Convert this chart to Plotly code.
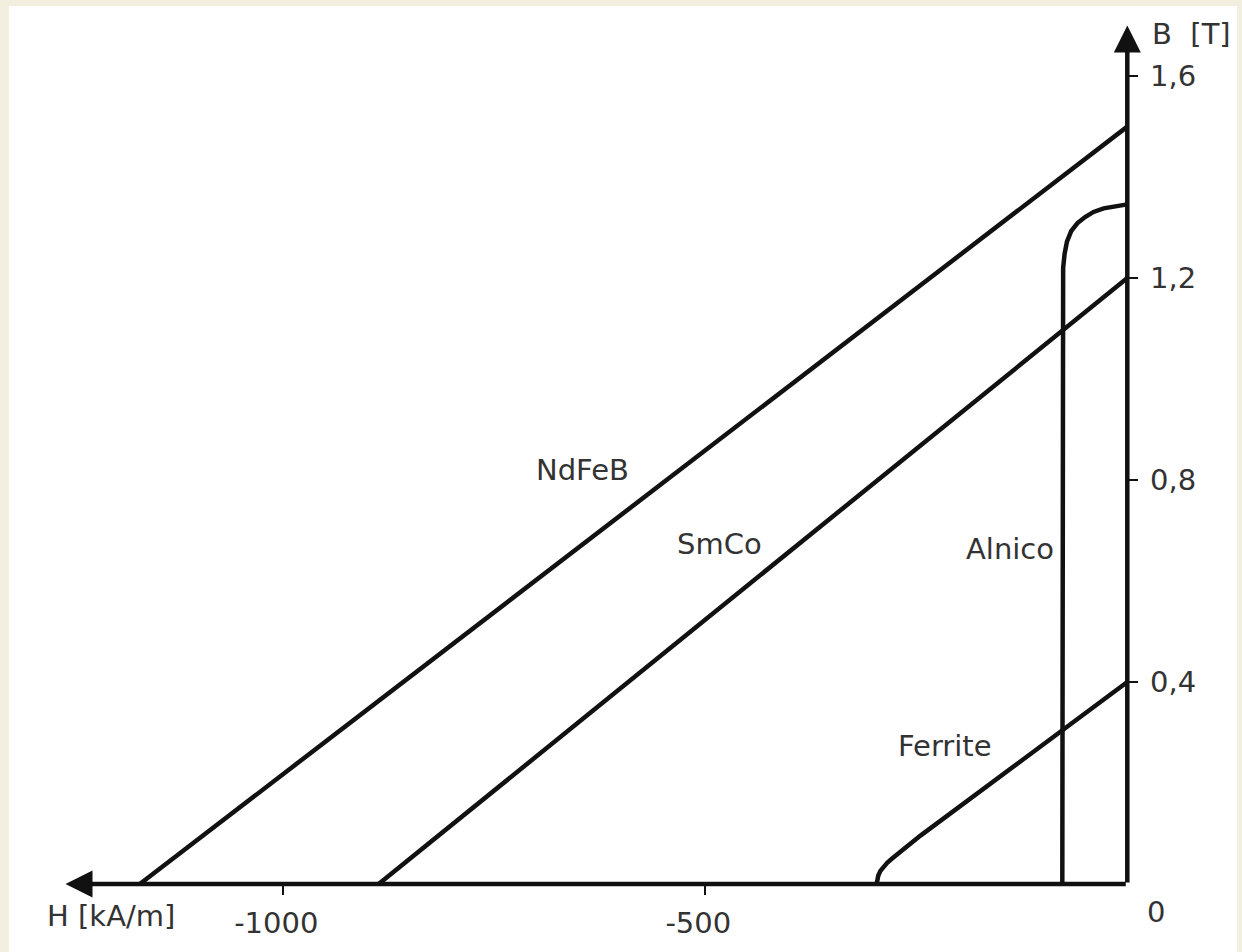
import plotly.graph_objects as go

# Demagnetisation curves (second quadrant) of permanent-magnet materials
# H in kA/m, B in T
ndfeb_h = [-1170, 0]
ndfeb_b = [0.0, 1.5]

smco_h = [-887, 0]
smco_b = [0.0, 1.2]

alnico_h = [-77, -77, -76.8, -76, -74.3, -71.5, -66.5, -59, -50, -40, -28, -14, 0]
alnico_b = [0.0, 1.12, 1.18, 1.22, 1.248, 1.272, 1.293, 1.309, 1.321, 1.331, 1.338, 1.343, 1.346]

ferrite_h = [-297, -296.5, -295, -292.5, -289, -284.5, -279, -272, -264, -255, -245, 0]
ferrite_b = [0.0, 0.008, 0.017, 0.026, 0.034, 0.042, 0.05, 0.06, 0.07, 0.082, 0.096, 0.40]

h_ticks = [-1000, -500]
h_ticklabels = ["-1000", "-500"]
b_ticks = [0.4, 0.8, 1.2, 1.6]
b_ticklabels = ["0,4", "0,8", "1,2", "1,6"]

materials = ["NdFeB", "SmCo", "Alnico", "Ferrite"]

# axis extents (arrow tips)
H_TIP = -1258
B_TIP = 1.70

# figure geometry
W, H = 1242, 952
ML, MR, MT, MB = 30, 92, 15, 52
PW, PH = W - ML - MR, H - MT - MB
X_RANGE = [-1300.1, 26.9]
Y_RANGE = [-0.02366, 1.7210]

def xfrac(v):
    return (v - X_RANGE[0]) / (X_RANGE[1] - X_RANGE[0])

def yfrac(v):
    return (v - Y_RANGE[0]) / (Y_RANGE[1] - Y_RANGE[0])

FONT = "DejaVu Sans"
FS = 29
TXT = "#333333"
LINE = "#111111"
LW = 4.5

fig = go.Figure()
for hx, by in [(ndfeb_h, ndfeb_b), (smco_h, smco_b),
               (alnico_h, alnico_b), (ferrite_h, ferrite_b)]:
    fig.add_trace(go.Scatter(x=hx, y=by, mode="lines",
                             line=dict(color=LINE, width=LW),
                             hoverinfo="skip", showlegend=False))

# curve labels
label_pos = {"NdFeB": (-645, 0.820), "SmCo": (-483, 0.674),
             "Alnico": (-139, 0.664), "Ferrite": (-216, 0.274)}
annotations = []
for name in materials:
    hx, by = label_pos[name]
    annotations.append(dict(x=hx, y=by, xref="x", yref="y", text=name,
                            showarrow=False, font=dict(family=FONT, size=FS, color=TXT)))

# axis lines with arrowheads
for tip in [(H_TIP, 0), (0, B_TIP)]:
    annotations.append(dict(x=tip[0], y=tip[1], ax=0, ay=0, xref="x", yref="y",
                            axref="x", ayref="y", text="", showarrow=True,
                            arrowhead=2, arrowsize=1.2, arrowwidth=LW, arrowcolor=LINE))

# axis titles and origin label
annotations.append(dict(x=H_TIP, y=0, xref="x", yref="y", xshift=45, yshift=-32,
                        text="H [kA/m]", showarrow=False,
                        font=dict(family=FONT, size=FS, color=TXT)))
annotations.append(dict(x=0, y=B_TIP, xref="x", yref="y", xshift=23, yshift=-8,
                        xanchor="left", yanchor="middle", text="B&nbsp;&nbsp;[T]",
                        showarrow=False, font=dict(family=FONT, size=FS, color=TXT)))
annotations.append(dict(x=0, y=0, xref="x", yref="y", xshift=29, yshift=-28,
                        text="0", showarrow=False,
                        font=dict(family=FONT, size=FS, color=TXT)))

fig.update_layout(
    width=W, height=H,
    margin=dict(l=ML, r=MR, t=MT, b=MB, pad=0),
    paper_bgcolor="#F3EFDF",
    plot_bgcolor="rgba(0,0,0,0)",
    showlegend=False,
    annotations=annotations,
    shapes=[dict(type="rect", xref="paper", yref="paper", layer="below",
                 x0=(9 - ML) / PW, x1=(1237 - ML) / PW,
                 y0=(PH + MT - 960) / PH, y1=(PH + MT - 6) / PH,
                 fillcolor="white", line=dict(width=0))],
    xaxis=dict(range=X_RANGE, anchor="free", position=yfrac(0),
               showgrid=False, zeroline=False, showline=False,
               tickmode="array", tickvals=h_ticks, ticktext=h_ticklabels,
               ticks="outside", ticklen=10, tickwidth=2, tickcolor=LINE,
               ticklabelshift=-7, ticklabelstandoff=3,
               tickfont=dict(family=FONT, size=FS, color=TXT), fixedrange=True),
    yaxis=dict(range=Y_RANGE, anchor="free", position=xfrac(0), side="right",
               showgrid=False, zeroline=False, showline=False,
               tickmode="array", tickvals=b_ticks, ticktext=b_ticklabels,
               ticks="outside", ticklen=10, tickwidth=2, tickcolor=LINE,
               ticklabelstandoff=6,
               tickfont=dict(family=FONT, size=FS, color=TXT), fixedrange=True),
)

fig.write_html("out.html")
